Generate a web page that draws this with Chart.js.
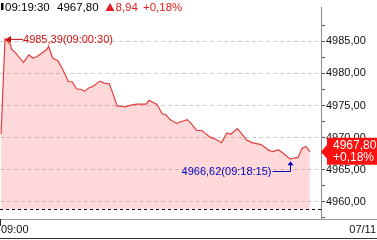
<!DOCTYPE html>
<html>
<head>
<meta charset="utf-8">
<script src="https://cdn.jsdelivr.net/npm/chart.js@4.4.0/dist/chart.umd.min.js"></script>
<style>
  html, body { margin: 0; padding: 0; background: #fff; overflow: hidden; }
  canvas { display: block; }
</style>
</head>
<body>
<canvas id="chart" width="377" height="240"></canvas>
<script>
// seconds after 09:00:00
const times = [0, 15, 35, 40, 55, 85, 105, 120, 135, 155, 175, 180, 195, 215, 235, 255, 270, 285, 305, 315,
  335, 345, 375, 390, 410, 425, 440, 455, 470, 495, 515, 535, 550, 560, 575, 590, 600, 610, 625, 640,
  665, 685, 705, 720, 740, 760, 770, 790, 810, 835, 855, 870, 895, 910, 930, 950, 985, 1015, 1030, 1050,
  1070, 1095, 1110, 1125, 1140, 1155, 1170];
const prices = [4970.5, 4985.39, 4984.55, 4983.8, 4983.2, 4981.7, 4982.9, 4982.4, 4982.6, 4983.2, 4983.8, 4984.25, 4982.4, 4982.0, 4980.5, 4978.7, 4978.7, 4977.6, 4977.5, 4977.2,
  4977.8, 4977.9, 4978.8, 4978.5, 4978.4, 4976.7, 4974.9, 4974.9, 4974.8, 4975.1, 4975.2, 4975.2, 4975.2, 4975.8, 4975.5, 4975.2, 4974.5, 4973.7, 4973.55, 4972.8,
  4972.2, 4972.5, 4972.8, 4972.2, 4971.1, 4971.1, 4970.8, 4970.1, 4969.8, 4969.2, 4970.7, 4970.5, 4971.4, 4970.7, 4969.6, 4969.2, 4968.9, 4968.0, 4967.8, 4968.1,
  4967.5, 4966.62, 4966.8, 4966.9, 4968.3, 4968.6, 4967.8];
const prevClose = 4958.86;
const xLabels = ['09:00', '07/11'];
const headerTexts = ['09:19:30', '4967,80', '8,94', '+0,18%'];
const extremeTimes = ['09:00:30', '09:18:15']; // high, low

const fmt = v => v.toFixed(2).replace('.', ',');
const RED = '#e02020';
const FONT = '"Liberation Sans", Arial, sans-serif';

const overlay = {
  id: 'overlay',
  afterDraw(chart) {
    const ctx = chart.ctx;
    const xs = chart.scales.x, ys = chart.scales.y;
    const area = chart.chartArea;
    ctx.save();

    // previous close line
    const pcY = Math.round(ys.getPixelForValue(prevClose)) + 0.5;
    ctx.strokeStyle = '#000';
    ctx.lineWidth = 1;
    ctx.setLineDash([3, 3]);
    ctx.beginPath();
    ctx.moveTo(area.left, pcY);
    ctx.lineTo(area.right, pcY);
    ctx.stroke();
    ctx.setLineDash([]);

    // x axis lines
    ctx.strokeStyle = '#999';
    ctx.beginPath();
    ctx.moveTo(0, 219.5); ctx.lineTo(377, 219.5);
    ctx.stroke();
    ctx.strokeStyle = '#333';
    ctx.beginPath();
    ctx.moveTo(0, 238.5); ctx.lineTo(377, 238.5);
    ctx.moveTo(0.5, 219); ctx.lineTo(0.5, 226);
    ctx.stroke();

    ctx.font = '11px ' + FONT;
    ctx.textBaseline = 'middle';
    ctx.fillStyle = '#111';
    ctx.textAlign = 'left';
    ctx.fillText(xLabels[0], 1, 230);
    ctx.textAlign = 'right';
    ctx.fillText(xLabels[1], 376, 230);

    // header
    ctx.font = '11.5px ' + FONT;
    ctx.fillStyle = '#000';
    ctx.fillRect(1, 3, 2.5, 7);
    ctx.textAlign = 'left';
    ctx.textBaseline = 'alphabetic';
    ctx.fillText(headerTexts[0], 5, 11);
    ctx.fillText(headerTexts[1], 57, 11);
    ctx.fillStyle = RED;
    ctx.beginPath();
    ctx.moveTo(110, 3); ctx.lineTo(114.5, 11); ctx.lineTo(105.5, 11);
    ctx.closePath(); ctx.fill();
    ctx.fillText(headerTexts[2], 115.5, 11);
    ctx.fillText(headerTexts[3], 143, 11);

    // high annotation
    let hi = 0, lo = 0;
    prices.forEach((p, i) => { if (p > prices[hi]) hi = i; if (p < prices[lo]) lo = i; });
    const hx = xs.getPixelForValue(times[hi]), hy = ys.getPixelForValue(prices[hi]);
    ctx.strokeStyle = '#d01010';
    ctx.fillStyle = '#d01010';
    ctx.beginPath();
    ctx.moveTo(hx + 2, hy + 0.5); ctx.lineTo(hx + 18, hy + 0.5);
    ctx.stroke();
    ctx.beginPath();
    ctx.moveTo(hx, hy + 0.5); ctx.lineTo(hx + 6, hy - 3); ctx.lineTo(hx + 6, hy + 4);
    ctx.closePath(); ctx.fill();
    ctx.font = '11px ' + FONT;
    ctx.textBaseline = 'middle';
    ctx.textAlign = 'left';
    ctx.fillText(fmt(prices[hi]) + '(' + extremeTimes[0] + ')', hx + 18, hy + 1);

    // low annotation
    const lx = Math.round(xs.getPixelForValue(times[lo])) + 0.5, ly = ys.getPixelForValue(prices[lo]);
    const ty = Math.round(ly + 12) + 0.5;
    ctx.strokeStyle = '#0000c0';
    ctx.fillStyle = '#0000c0';
    ctx.beginPath();
    ctx.moveTo(lx - 18, ty); ctx.lineTo(lx, ty); ctx.lineTo(lx, ly + 5);
    ctx.stroke();
    ctx.beginPath();
    ctx.moveTo(lx, ly + 2); ctx.lineTo(lx - 3, ly + 6); ctx.lineTo(lx + 3, ly + 6);
    ctx.closePath(); ctx.fill();
    ctx.textAlign = 'right';
    ctx.fillText(fmt(prices[lo]) + '(' + extremeTimes[1] + ')', lx - 19, ty);

    // last price tag
    const last = prices[prices.length - 1];
    const ey = ys.getPixelForValue(last);
    ctx.fillStyle = '#ff1010';
    ctx.beginPath();
    ctx.moveTo(321, ey);
    ctx.lineTo(327, ey - 7);
    ctx.lineTo(327, ey - 14);
    ctx.lineTo(377, ey - 14);
    ctx.lineTo(377, ey + 13);
    ctx.lineTo(327, ey + 13);
    ctx.lineTo(327, ey + 7);
    ctx.closePath(); ctx.fill();
    ctx.fillStyle = '#fff';
    ctx.textAlign = 'left';
    ctx.font = '12px ' + FONT;
    ctx.fillText(fmt(last), 333, ey - 6);
    ctx.fillText(headerTexts[3], 333, ey + 6);

    ctx.restore();
  }
};

new Chart(document.getElementById('chart').getContext('2d'), {
  type: 'line',
  data: {
    datasets: [{
      data: times.map((t, i) => ({ x: t, y: prices[i] })),
      borderColor: '#e63c3c',
      borderWidth: 1.2,
      backgroundColor: 'rgba(255, 0, 0, 0.15)',
      fill: { value: prevClose },
      pointRadius: 0,
      tension: 0
    }]
  },
  options: {
    responsive: false,
    animation: false,
    layout: { padding: { top: 0, left: 0, right: 0, bottom: 21 } },
    plugins: { legend: { display: false }, tooltip: { enabled: false } },
    scales: {
      x: { type: 'linear', display: false, min: -4, max: 1212 },
      y: {
        position: 'right',
        min: 4957.29,
        max: 4990.27,
        afterBuildTicks: scale => {
          const t = [];
          for (let v = 4957.5; v <= 4988; v += 2.5) t.push({ value: v });
          scale.ticks = t;
        },
        afterFit: scale => { scale.width = 56; },
        border: { display: true, color: '#888', width: 1, dash: [4, 3] },
        grid: {
          color: c => (c.tick && Math.abs(c.tick.value % 5) < 1e-6) ? '#cdcdcd' : 'rgba(0,0,0,0)',
          tickColor: '#555',
          tickLength: 4,
          lineWidth: 1
        },
        ticks: {
          padding: 1,
          color: '#111',
          font: { family: FONT, size: 11 },
          callback: v => Math.abs(v % 5) < 1e-6 ? fmt(v) : ''
        }
      }
    }
  },
  plugins: [overlay]
});
</script>
</body>
</html>
